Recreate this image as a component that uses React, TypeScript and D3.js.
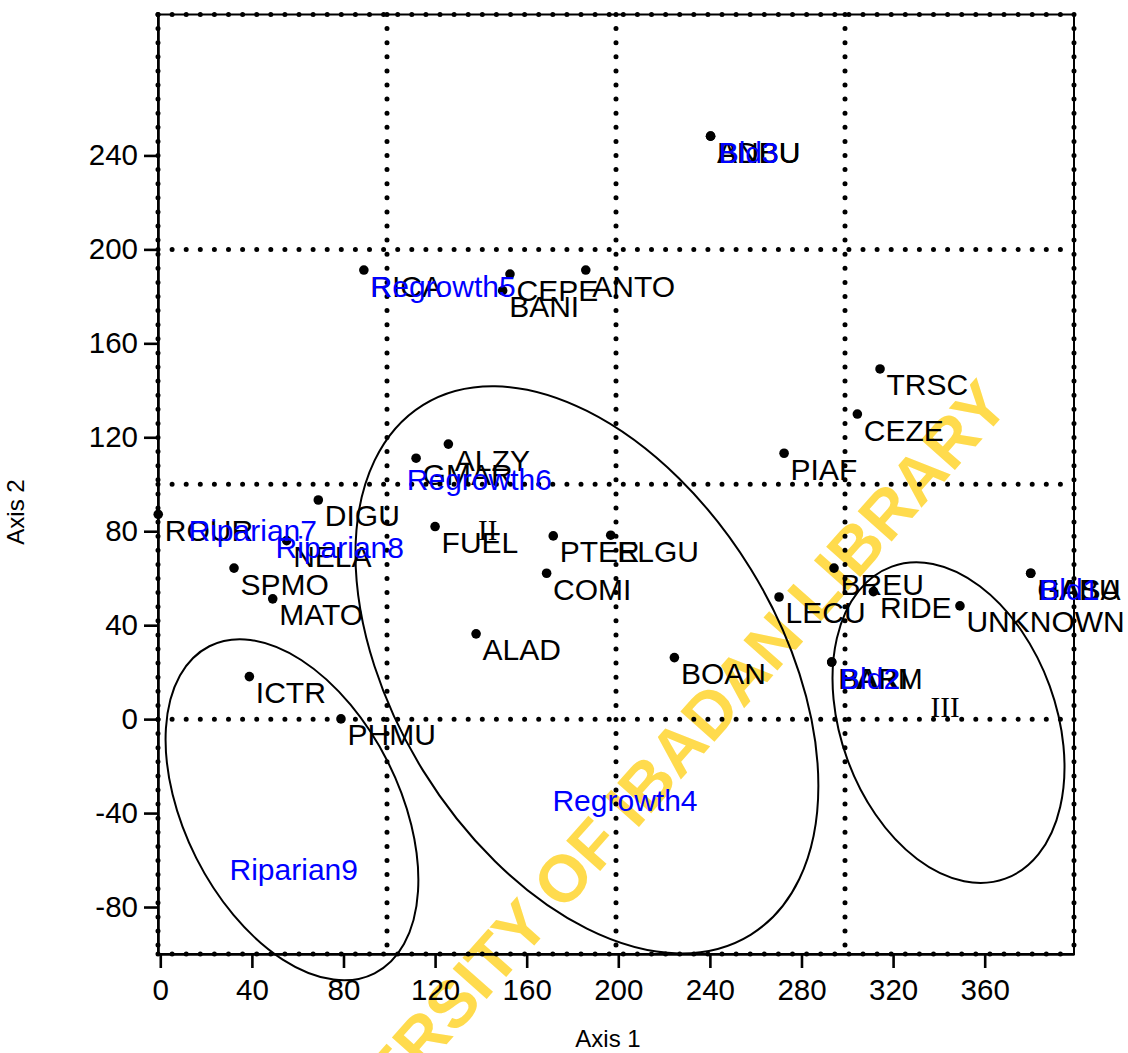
import { useEffect, useRef } from "react";
import * as d3 from "d3";

// species scores (black, with dots)
const speciesNames = ["ROUR", "DIGU", "NELA", "SPMO", "MATO", "ICTR", "PHMU", "RICA", "CEPE", "BANI", "ANTO", "GMAR", "ALZY", "FUEL", "PTER", "ELGU", "COMI", "ALAD", "BOAN", "LECU", "PIAF", "CEZE", "TRSC", "BREU", "RIDE", "UNKNOWN", "ANBU", "BDBU", "BARI", "PARM", "HABU", "GASA"];
const speciesX = [-0.9, 69, 55.2, 32.2, 49.1, 38.9, 78.9, 88.9, 152.7, 149.5, 185.8, 111.7, 125.8, 120, 171.6, 196.7, 168.7, 137.9, 224.5, 270.2, 272.4, 304.4, 314.3, 294.2, 311.4, 349.2, 240.3, 240.3, 293.2, 293.2, 380.1, 380.1];
const speciesY = [87.2, 93.3, 76, 64.3, 51.2, 18.1, 0.1, 191.2, 189.5, 182.4, 191.2, 111.1, 117.1, 82, 78, 78.3, 62.1, 36.3, 26.2, 52, 113.2, 129.9, 149.1, 64.3, 54.3, 48.2, 248.2, 248.2, 24.3, 24.3, 62.1, 62.1];

// sample scores (blue labels only)
const sampleNames = ["Bld3", "Bld2", "Bld1", "Regrowth4", "Regrowth5", "Regrowth6", "Riparian7", "Riparian8", "Riparian9"];
const sampleX = [241, 294, 381, 168.4, 89, 104.8, 9.5, 47.5, 27.4];
const sampleY = [248, 24.3, 62.1, -28, 191, 109, 87, 79.7, -57.2];

const xTicks = [0, 40, 80, 120, 160, 200, 240, 280, 320, 360];
const yTicks = [-80, -40, 0, 40, 80, 120, 160, 200, 240];
const xGrid = [-1, 99, 199, 299, 399];
const yGrid = [-100, 0, 100, 200, 300];

// group ellipses: centre in axis units, semi-axes in axis-1 units, tilt in degrees
const ellipseCx = [57.5, 186.3, 344.2];
const ellipseCy = [-38.6, 21, -1.5];
const ellipseA = [80, 136, 72.5];
const ellipseB = [46.8, 84, 47];
const ellipseAngle = [63.2, 58.3, 70];

const groupLabels = ["II", "III"];
const groupX = [143, 342.7];
const groupY = [76.3, 1.1];

const W = 1128;
const H = 1053;
const FONT = "'Liberation Sans', Arial, sans-serif";

export default function App() {
  const svgRef = useRef<SVGSVGElement | null>(null);

  useEffect(() => {
    const svg = d3.select(svgRef.current);
    svg.selectAll("*").remove();

    const x = d3.scaleLinear().domain([-1, 399]).range([158, 1074]);
    const y = d3.scaleLinear().domain([-100, 300]).range([954, 14.5]);
    const kx = x(1) - x(0);

    svg.append("rect").attr("width", W).attr("height", H).attr("fill", "white");

    // watermark
    svg
      .append("text")
      .attr("transform", "translate(633,799) rotate(-48.5)")
      .attr("text-anchor", "middle")
      .attr("dominant-baseline", "central")
      .attr("font-family", FONT)
      .attr("font-weight", "bold")
      .attr("font-size", "66px")
      .attr("fill", "#FFDB4D")
      .text("UNIVERSITY OF IBADAN LIBRARY");

    // dotted grid
    const dots = svg.append("g").attr("stroke", "black").attr("stroke-width", 5).attr("stroke-linecap", "round").attr("stroke-dasharray", "0 14.1");
    xGrid.forEach((v) => {
      dots.append("line").attr("x1", x(v)).attr("x2", x(v)).attr("y1", y(300)).attr("y2", y(-100));
    });
    yGrid.forEach((v) => {
      dots.append("line").attr("x1", x(-1)).attr("x2", x(399)).attr("y1", y(v)).attr("y2", y(v));
    });

    // frame
    svg
      .append("rect")
      .attr("x", x(-1))
      .attr("y", y(300))
      .attr("width", x(399) - x(-1))
      .attr("height", y(-100) - y(300))
      .attr("fill", "none")
      .attr("stroke", "black")
      .attr("stroke-width", 2);

    // axes
    const fmt = (d: d3.NumberValue) => String(d);
    const xAxis = svg
      .append("g")
      .attr("transform", `translate(0,${y(-100)})`)
      .call(d3.axisBottom(x).tickValues(xTicks).tickFormat(fmt).tickSize(14).tickPadding(11).tickSizeOuter(0));
    const yAxis = svg
      .append("g")
      .attr("transform", `translate(${x(-1)},0)`)
      .call(d3.axisLeft(y).tickValues(yTicks).tickFormat(fmt).tickSize(14).tickPadding(6).tickSizeOuter(0));
    [xAxis, yAxis].forEach((g) => {
      g.select(".domain").attr("stroke", "black").attr("stroke-width", 2.6);
      g.selectAll(".tick line").attr("stroke", "black").attr("stroke-width", 2.6);
      g.selectAll(".tick text").attr("fill", "black").attr("font-family", FONT).attr("font-size", "29.5px");
    });

    // ellipses
    ellipseCx.forEach((cx, i) => {
      svg
        .append("ellipse")
        .attr("transform", `translate(${x(cx)},${y(ellipseCy[i])}) rotate(${ellipseAngle[i]})`)
        .attr("rx", ellipseA[i] * kx)
        .attr("ry", ellipseB[i] * kx)
        .attr("fill", "none")
        .attr("stroke", "black")
        .attr("stroke-width", 2);
    });

    // group numbers
    groupLabels.forEach((t, i) => {
      svg
        .append("text")
        .attr("x", x(groupX[i]))
        .attr("y", y(groupY[i]))
        .attr("text-anchor", "middle")
        .attr("font-family", "'Liberation Serif', 'Times New Roman', serif")
        .attr("font-size", "29px")
        .attr("fill", "black")
        .text(t);
    });

    // species points
    speciesNames.forEach((name, i) => {
      svg.append("circle").attr("cx", x(speciesX[i])).attr("cy", y(speciesY[i])).attr("r", 4.8).attr("fill", "black");
    });
    speciesNames.forEach((name, i) => {
      svg
        .append("text")
        .attr("x", x(speciesX[i]) + 6.5)
        .attr("y", y(speciesY[i]) + 26.5)
        .attr("font-family", FONT)
        .attr("font-size", "30px")
        .attr("fill", "black")
        .text(name);
    });

    // sample labels
    sampleNames.forEach((name, i) => {
      svg
        .append("text")
        .attr("x", x(sampleX[i]) + 6.5)
        .attr("y", y(sampleY[i]) + 26.5)
        .attr("font-family", FONT)
        .attr("font-size", "30px")
        .attr("fill", "#0000FF")
        .text(name);
    });

    // axis titles
    svg
      .append("text")
      .attr("x", 608)
      .attr("y", 1047)
      .attr("text-anchor", "middle")
      .attr("font-family", FONT)
      .attr("font-size", "24px")
      .attr("fill", "black")
      .text("Axis 1");
    svg
      .append("text")
      .attr("transform", "translate(24,512) rotate(-90)")
      .attr("text-anchor", "middle")
      .attr("font-family", FONT)
      .attr("font-size", "24px")
      .attr("fill", "black")
      .text("Axis 2");
  }, []);

  return (
    <div style={{ position: "absolute", left: 0, top: 0 }}>
      <svg ref={svgRef} width={W} height={H}></svg>
    </div>
  );
}
